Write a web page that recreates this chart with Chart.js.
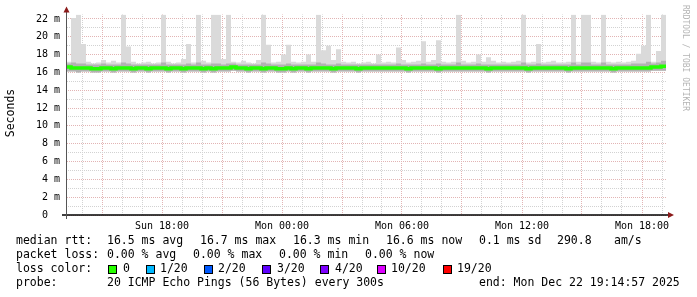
<!DOCTYPE html>
<html>
<head>
<meta charset="utf-8">
<title>SmokePing</title>
<script src="https://cdn.jsdelivr.net/npm/chart.js@4.4.1/dist/chart.umd.min.js"></script>
<style>
  body { margin: 0; background: #fff; }
  #wrap { width: 697px; height: 297px; }
</style>
</head>
<body>
<div id="wrap"><canvas id="smokeChart" width="697" height="297"></canvas></div>
<script>
// time axis in hours since Sun 00:00, one sample per 15 min
const startHour = 13.2;
const stepHours = 0.25;

// median rtt (ms)
const medianRtt = [
  16.6,16.5,16.5,16.5,16.5,16.4,16.4,16.5,16.5,16.4,
  16.5,16.5,16.5,16.4,16.5,16.5,16.4,16.5,16.5,16.5,
  16.4,16.5,16.5,16.4,16.5,16.5,16.5,16.4,16.5,16.4,
  16.5,16.5,16.5,16.6,16.5,16.5,16.4,16.5,16.5,16.4,
  16.5,16.5,16.4,16.4,16.5,16.4,16.5,16.5,16.4,16.5,
  16.5,16.5,16.5,16.4,16.5,16.5,16.5,16.5,16.4,16.5,
  16.5,16.5,16.5,16.5,16.5,16.5,16.5,16.5,16.4,16.5,
  16.5,16.5,16.5,16.5,16.4,16.5,16.5,16.5,16.5,16.5,
  16.5,16.5,16.5,16.5,16.4,16.5,16.5,16.5,16.5,16.5,
  16.5,16.5,16.4,16.5,16.5,16.5,16.5,16.5,16.5,16.5,
  16.4,16.5,16.5,16.5,16.5,16.5,16.5,16.5,16.5,16.4,
  16.5,16.5,16.5,16.5,16.5,16.5,16.5,16.6,16.6,16.7
];

// smoke: lowest ping, upper edge of the dense band, highest ping (ms)
const smokeLow = [
  16.1,16.1,16.0,16.1,16.1,16.0,16.0,16.1,16.1,16.0,
  16.1,16.1,16.1,16.0,16.1,16.1,16.0,16.1,16.1,16.1,
  16.0,16.1,16.1,16.0,16.1,16.1,16.1,16.0,16.1,16.0,
  16.1,16.1,16.1,16.2,16.1,16.1,16.0,16.1,16.1,16.0,
  16.1,16.1,16.0,16.0,16.1,16.0,16.1,16.1,16.0,16.1,
  16.1,16.1,16.1,16.0,16.1,16.1,16.1,16.1,16.0,16.1,
  16.1,16.1,16.1,16.1,16.1,16.1,16.1,16.1,16.0,16.1,
  16.1,16.1,16.1,16.1,16.0,16.1,16.1,16.1,16.1,16.1,
  16.1,16.1,16.1,16.1,16.0,16.1,16.1,16.1,16.1,16.1,
  16.1,16.1,16.0,16.1,16.1,16.1,16.1,16.1,16.1,16.1,
  16.0,16.1,16.1,16.1,16.1,16.1,16.1,16.1,16.1,16.0,
  16.1,16.1,16.1,16.1,16.1,16.1,16.1,16.2,16.2,16.2
];
const smokeMid = [
  17.0,17.1,17.0,17.0,16.9,16.9,16.9,17.0,16.9,16.9,
  16.9,17.1,17.0,16.9,16.9,16.9,16.9,16.9,16.9,17.1,
  16.9,16.9,16.9,16.9,17.0,16.9,17.1,16.9,16.9,17.0,
  17.0,16.9,17.0,17.0,16.9,16.9,16.9,16.9,16.9,17.1,
  17.0,16.9,16.9,16.9,17.0,16.9,16.9,16.9,16.9,16.9,
  17.1,17.0,16.9,16.9,17.0,16.9,16.9,16.9,16.9,16.9,
  16.9,16.9,16.9,16.9,16.9,16.9,17.0,16.9,16.9,16.9,
  16.9,17.0,16.9,16.9,17.0,16.9,16.9,16.9,17.1,16.9,
  16.9,16.9,17.0,16.9,16.9,16.9,16.9,16.9,16.9,16.9,
  16.9,17.1,16.9,16.9,17.0,16.9,16.9,16.9,16.9,16.9,
  16.9,17.1,16.9,17.1,17.1,16.9,16.9,17.1,16.9,16.9,
  16.9,16.9,16.9,17.0,17.0,17.0,17.2,17.0,17.1,17.3
];
const smokeMax = [
  17.2,22.1,22.5,19.2,17.2,17.0,17.1,17.4,17.1,17.3,
  17.1,22.5,18.9,17.2,17.0,17.1,17.2,17.0,17.1,22.5,
  17.2,17.0,17.1,17.5,19.2,17.1,22.5,17.3,17.1,22.5,
  22.5,17.5,22.5,17.2,17.1,17.3,17.1,17.0,17.4,22.5,
  19.1,17.1,17.2,18.0,19.1,17.2,17.1,17.2,18.0,17.2,
  22.5,18.5,19.0,17.4,18.6,17.2,17.1,17.2,17.0,17.1,
  17.2,17.0,18.0,17.1,17.2,17.1,18.8,17.4,17.1,17.2,
  17.3,19.5,17.2,17.4,19.6,17.2,17.1,17.2,22.5,17.3,
  17.1,17.2,18.0,17.2,17.7,17.3,17.1,17.2,17.1,17.2,
  17.3,22.5,17.1,17.2,19.2,17.1,17.2,17.3,17.1,17.1,
  17.2,22.5,17.2,22.5,22.5,17.2,17.1,22.5,17.2,17.1,
  17.2,17.1,17.2,17.3,18.1,19.0,22.5,17.2,18.4,22.5
];

const hourTicks = [14,15,16,17,18,19,20,21,22,23,24,25,26,27,28,29,30,31,32,33,34,35,36,37,38,39,40,41,42,43];
const labelHours = [18, 24, 30, 36, 42];
const labelTexts = ['Sun 18:00', 'Mon 00:00', 'Mon 06:00', 'Mon 12:00', 'Mon 18:00'];
const msTicks = [0,1,2,3,4,5,6,7,8,9,10,11,12,13,14,15,16,17,18,19,20,21,22];

const rttItems = ['16.5 ms avg', '16.7 ms max', '16.3 ms min', '16.6 ms now', '0.1 ms sd', '290.8', 'am/s'];
const lossItems = ['0.00 % avg', '0.00 % max', '0.00 % min', '0.00 % now'];
const lossLabels = ['0', '1/20', '2/20', '3/20', '4/20', '10/20', '19/20'];
const lossColors = ['#26ff00', '#00b8ff', '#0059ff', '#5e00ff', '#7e00ff', '#dd00ff', '#ff0000'];
const probeText = '20 ICMP Echo Pings (56 Bytes) every 300s';
const endText = 'end: Mon Dec 22 19:14:57 2025';

const MONO = "'DejaVu Sans Mono', monospace";

// rrdtool style dotted grid: checkerboard pattern gives 1 on / 1 off dots
function dotPattern(color) {
    const c = document.createElement('canvas');
    c.width = 2;
    c.height = 2;
    const g = c.getContext('2d');
    g.fillStyle = color;
    g.fillRect(0, 0, 1, 1);
    g.fillRect(1, 1, 1, 1);
    return g.createPattern(c, 'repeat');
}
const MINOR = dotPattern('#d2d2d2');
const MAJOR = dotPattern('#e2b4b4');

function toPoints(values) {
    const pts = values.map((v, i) => ({ x: startHour + i * stepHours, y: v }));
    // close last step at the end of the window
    pts.push({ x: startHour + values.length * stepHours, y: values[values.length - 1] });
    return pts;
}

const rrdDecor = {
    id: 'rrdDecor',
    afterDraw(chart) {
        const ctx = chart.ctx;
        const a = chart.chartArea;
        ctx.save();

        // axes
        ctx.strokeStyle = '#000';
        ctx.lineWidth = 1.5;
        ctx.beginPath();
        ctx.moveTo(a.left - 4, a.bottom);
        ctx.lineTo(a.right + 3, a.bottom);
        ctx.stroke();
        ctx.strokeStyle = '#555';
        ctx.lineWidth = 1;
        ctx.beginPath();
        ctx.moveTo(a.left + 0.5, a.bottom + 4);
        ctx.lineTo(a.left + 0.5, a.top - 4);
        ctx.stroke();

        // arrows
        ctx.fillStyle = '#8b1a1a';
        ctx.beginPath();
        ctx.moveTo(a.left + 0.5, a.top - 8);
        ctx.lineTo(a.left - 2.5, a.top - 2);
        ctx.lineTo(a.left + 3.5, a.top - 2);
        ctx.closePath();
        ctx.fill();
        ctx.beginPath();
        ctx.moveTo(a.right + 8, a.bottom);
        ctx.lineTo(a.right + 2, a.bottom - 3);
        ctx.lineTo(a.right + 2, a.bottom + 3);
        ctx.closePath();
        ctx.fill();

        // y title
        ctx.fillStyle = '#000';
        ctx.font = '11.5px ' + MONO;
        ctx.textAlign = 'center';
        ctx.textBaseline = 'middle';
        ctx.save();
        ctx.translate(11, 113);
        ctx.rotate(-Math.PI / 2);
        ctx.fillText('Seconds', 0, 0);
        ctx.restore();

        // watermark
        ctx.save();
        ctx.fillStyle = '#b4b4b4';
        ctx.font = '8px ' + MONO;
        ctx.textAlign = 'left';
        ctx.translate(685, 5);
        ctx.rotate(Math.PI / 2);
        ctx.fillText('RRDTOOL / TOBI OETIKER', 0, 0);
        ctx.restore();

        // legend rows
        ctx.textAlign = 'left';
        ctx.font = '11.5px ' + MONO;
        ctx.fillStyle = '#000';
        const rttX = [107, 200, 293, 386, 479, 557, 614];
        ctx.fillText('median rtt:', 16, 241);
        rttItems.forEach((t, i) => ctx.fillText(t, rttX[i], 241));

        const lossX = [107, 193, 279, 365];
        ctx.fillText('packet loss:', 16, 255);
        lossItems.forEach((t, i) => ctx.fillText(t, lossX[i], 255));

        const boxX = [108, 146, 204, 262, 320, 377, 443];
        const labX = [123, 160, 218, 277, 335, 391, 457];
        ctx.fillText('loss color:', 16, 269);
        lossLabels.forEach((t, i) => {
            ctx.fillStyle = lossColors[i];
            ctx.fillRect(boxX[i], 265, 8, 8);
            ctx.strokeStyle = '#000';
            ctx.lineWidth = 1;
            ctx.strokeRect(boxX[i] + 0.5, 265.5, 8, 8);
            ctx.fillStyle = '#000';
            ctx.fillText(t, labX[i], 269);
        });

        ctx.fillText('probe:', 16, 283);
        ctx.fillText(probeText, 107, 283);
        ctx.fillText(endText, 479, 283);

        ctx.restore();
    }
};

const lineBase = { pointRadius: 0, borderWidth: 0, stepped: true, tension: 0 };

const smokeChart = new Chart(document.getElementById('smokeChart').getContext('2d'), {
    type: 'line',
    data: {
        datasets: [
            Object.assign({ label: 'low', data: toPoints(smokeLow), fill: false, order: 10 }, lineBase),
            Object.assign({ label: 'max', data: toPoints(smokeMax), fill: 0, backgroundColor: '#dadada', order: 5 }, lineBase),
            Object.assign({ label: 'band', data: toPoints(smokeMid), fill: 0, backgroundColor: '#b2b2b2', order: 4 }, lineBase),
            {
                label: 'median',
                data: toPoints(medianRtt),
                borderColor: '#22ff00',
                borderWidth: 3.5,
                pointRadius: 0,
                stepped: true,
                fill: false,
                order: 1
            }
        ]
    },
    options: {
        responsive: false,
        animation: false,
        devicePixelRatio: 1,
        layout: { padding: { left: 0, right: 31, top: 14.5, bottom: 0 } },
        plugins: { legend: { display: false }, tooltip: { enabled: false } },
        scales: {
            x: {
                type: 'linear',
                min: startHour,
                max: startHour + medianRtt.length * stepHours,
                afterBuildTicks: s => { s.ticks = hourTicks.map(v => ({ value: v })); },
                afterFit: s => { s.height = 82; },
                grid: {
                    drawTicks: false,
                    lineWidth: 1,
                    color: c => (c.tick && c.tick.value % 3 === 0) ? MAJOR : MINOR
                },
                border: { display: false },
                ticks: {
                    autoSkip: false,
                    maxRotation: 0,
                    padding: 5,
                    color: '#000',
                    font: { family: MONO, size: 10 },
                    callback: v => {
                        const k = labelHours.indexOf(v);
                        return k >= 0 ? labelTexts[k] : '';
                    }
                }
            },
            y: {
                min: 0,
                max: 22.5,
                afterBuildTicks: s => { s.ticks = msTicks.map(v => ({ value: v })); },
                afterFit: s => { s.width = 66; },
                grid: {
                    drawTicks: false,
                    lineWidth: 1,
                    color: c => (c.tick && c.tick.value % 2 === 0) ? MAJOR : MINOR
                },
                border: { display: false },
                ticks: {
                    autoSkip: false,
                    padding: 6,
                    color: '#000',
                    font: { family: MONO, size: 10 },
                    callback: v => v === 0 ? '0  ' : (v % 2 === 0 ? v + ' m' : '')
                }
            }
        }
    },
    plugins: [rrdDecor]
});
</script>
</body>
</html>
